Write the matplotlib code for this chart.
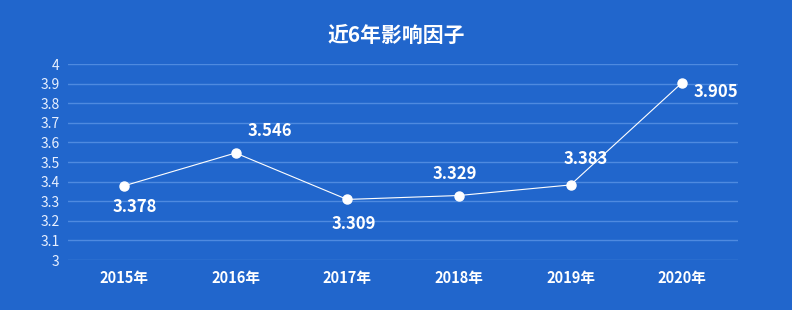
import matplotlib
matplotlib.use("Agg")
import matplotlib.pyplot as plt

plt.rcParams['font.family'] = ['Noto Sans CJK SC', 'DejaVu Sans']

years = ["2015年", "2016年", "2017年", "2018年", "2019年", "2020年"]
values = [3.378, 3.546, 3.309, 3.329, 3.383, 3.905]
label_offsets = [(11, -21), (34, 22), (7, -25), (-4, 22), (15, 26), (34, -9)]
yticks = [3, 3.1, 3.2, 3.3, 3.4, 3.5, 3.6, 3.7, 3.8, 3.9, 4]
ytick_labels = ["3", "3.1", "3.2", "3.3", "3.4", "3.5", "3.6", "3.7", "3.8", "3.9", "4"]

bg = "#2166CC"
grid = "#4E8AE0"

fig = plt.figure(figsize=(7.92, 3.10), dpi=100, facecolor=bg)
ax = fig.add_axes([68/792, 1-260/310, 670/792, 196/310])
ax.set_facecolor(bg)

x = list(range(len(years)))
ax.plot(x, values, color="white", lw=0.8, marker="o", ms=6.5, mfc="white", mec="white", zorder=3)

for xi, v, off in zip(x, values, label_offsets):
    ax.annotate(f"{v:.3f}", (xi, v), xytext=off, textcoords="offset pixels",
                ha="center", va="center", color="white", fontsize=12, fontweight="bold")

ax.set_xlim(-0.5, 5.5)
ax.set_ylim(3, 4)
ax.set_yticks(yticks)
ax.set_yticklabels(ytick_labels)
ax.set_xticks(x)
ax.set_xticklabels(years, fontweight="bold")
ax.tick_params(axis="y", colors="white", labelsize=10, length=0, pad=6)
ax.tick_params(axis="x", colors="white", labelsize=10.5, length=0, pad=7)
for lab in ax.get_yticklabels():
    lab.set_color("#E8F0FF")
ax.grid(axis="y", color=grid, lw=1)
ax.set_axisbelow(True)
for s in ax.spines.values():
    s.set_visible(False)

fig.text(0.5, 1-35/310, "近6年影响因子", ha="center", va="center", color="white",
         fontsize=15, fontweight="bold")

fig.savefig("out.png", dpi=100, facecolor=bg)
